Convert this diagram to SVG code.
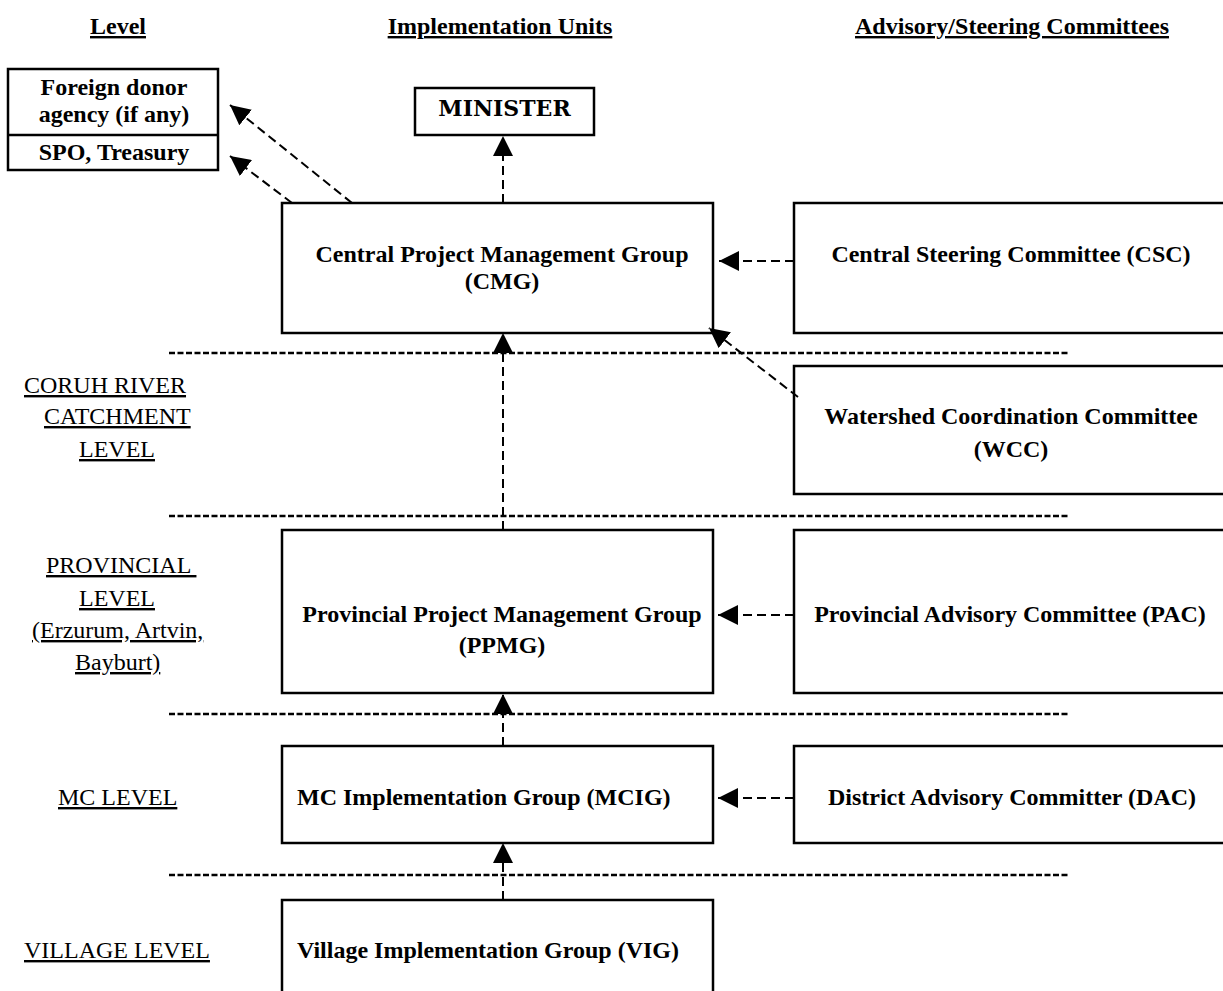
<svg xmlns="http://www.w3.org/2000/svg" width="1223" height="991" viewBox="0 0 1223 991">
<style>
  .box { fill: #fff; stroke: #000; stroke-width: 2.5; }
  .b { font-family: "Liberation Serif", "Times New Roman", serif; font-weight: bold; font-size: 24px; fill: #000; }
  .r { font-family: "Liberation Serif", "Times New Roman", serif; font-size: 24px; fill: #000; text-decoration: underline; white-space: pre; }
  .h { font-family: "Liberation Serif", "Times New Roman", serif; font-weight: bold; font-size: 24px; fill: #000; text-decoration: underline; }
  .m { text-anchor: middle; }
  .sep { stroke: #000; stroke-width: 2.6; stroke-dasharray: 6 2.5; fill: none; }
  .arr { stroke: #000; stroke-width: 2; stroke-dasharray: 9 5; fill: none; marker-end: url(#ah); }
</style>
<defs>
  <marker id="ah" markerUnits="userSpaceOnUse" markerWidth="20" markerHeight="20" refX="20" refY="10" orient="auto" viewBox="0 0 20 20">
    <path d="M0,0 L20,10 L0,20 z" fill="#000" stroke="none"/>
  </marker>
</defs>
<rect width="1223" height="991" fill="#fff"/>

<g id="headers">
  <text class="h m" x="118" y="34">Level</text>
  <text class="h m" x="500" y="34">Implementation Units</text>
  <text class="h m" x="1012" y="34">Advisory/Steering Committees</text>
</g>

<g id="levels">
  <text class="r" x="24" y="393">CORUH RIVER</text>
  <text class="r" x="44" y="424">CATCHMENT</text>
  <text class="r" x="79" y="457">LEVEL</text>
  <text class="r" x="46" y="573">PROVINCIAL </text>
  <text class="r" x="79" y="606">LEVEL</text>
  <text class="r" x="32" y="638">(Erzurum, Artvin,</text>
  <text class="r" x="75" y="670">Bayburt)</text>
  <text class="r" x="58" y="805">MC LEVEL</text>
  <text class="r" x="24" y="958">VILLAGE LEVEL</text>
</g>

<g id="separators">
  <line class="sep" x1="169" y1="353" x2="1070" y2="353"/>
  <line class="sep" x1="169" y1="516" x2="1070" y2="516"/>
  <line class="sep" x1="169" y1="714" x2="1070" y2="714"/>
  <line class="sep" x1="169" y1="875" x2="1070" y2="875"/>
</g>

<g id="foreign">
  <rect class="box" x="8" y="69" width="210" height="101"/>
  <line x1="8" y1="135" x2="218" y2="135" stroke="#000" stroke-width="2.5"/>
  <text class="b m" x="114" y="95">Foreign donor</text>
  <text class="b m" x="114" y="122">agency (if any)</text>
  <text class="b m" x="114" y="160">SPO, Treasury</text>
</g>

<g id="minister">
  <rect class="box" x="415" y="88" width="179" height="47"/>
  <text class="m" x="504.5" y="116" font-family="DejaVu Serif, serif" font-weight="bold" font-size="22">MINISTER</text>
</g>

<g id="cmg">
  <rect class="box" x="282" y="203" width="431" height="130"/>
  <text class="b m" x="502" y="262">Central Project Management Group</text>
  <text class="b m" x="502" y="289">(CMG)</text>
</g>

<g id="csc">
  <rect class="box" x="794" y="203" width="440" height="130"/>
  <text class="b m" x="1011" y="262">Central Steering Committee (CSC)</text>
</g>

<g id="wcc">
  <rect class="box" x="794" y="366" width="440" height="128"/>
  <text class="b m" x="1011" y="424">Watershed Coordination Committee</text>
  <text class="b m" x="1011" y="457">(WCC)</text>
</g>

<g id="ppmg">
  <rect class="box" x="282" y="530" width="431" height="163"/>
  <text class="b m" x="502" y="622">Provincial Project Management Group</text>
  <text class="b m" x="502" y="653">(PPMG)</text>
</g>

<g id="pac">
  <rect class="box" x="794" y="530" width="440" height="163"/>
  <text class="b m" x="1010" y="622">Provincial Advisory Committee (PAC)</text>
</g>

<g id="mcig">
  <rect class="box" x="282" y="746" width="431" height="97"/>
  <text class="b" x="297" y="805">MC Implementation Group (MCIG)</text>
</g>

<g id="dac">
  <rect class="box" x="794" y="746" width="440" height="97"/>
  <text class="b m" x="1012" y="805">District Advisory Committer (DAC)</text>
</g>

<g id="vig">
  <rect class="box" x="282" y="900" width="431" height="100"/>
  <text class="b" x="297" y="958">Village Implementation Group (VIG)</text>
</g>

<g id="connectors">
  <line class="arr" x1="352" y1="203" x2="230" y2="105"/>
  <line class="arr" x1="292" y1="203" x2="230" y2="156"/>
  <line class="arr" x1="503" y1="203" x2="503" y2="136"/>
  <line class="arr" x1="794" y1="261" x2="719" y2="261"/>
  <line class="arr" x1="798" y1="397" x2="709" y2="328"/>
  <line class="arr" x1="503" y1="530" x2="503" y2="333"/>
  <line class="arr" x1="794" y1="615" x2="718" y2="615"/>
  <line class="arr" x1="503" y1="746" x2="503" y2="694"/>
  <line class="arr" x1="794" y1="798" x2="718" y2="798"/>
  <line class="arr" x1="503" y1="900" x2="503" y2="843"/>
</g>
</svg>
